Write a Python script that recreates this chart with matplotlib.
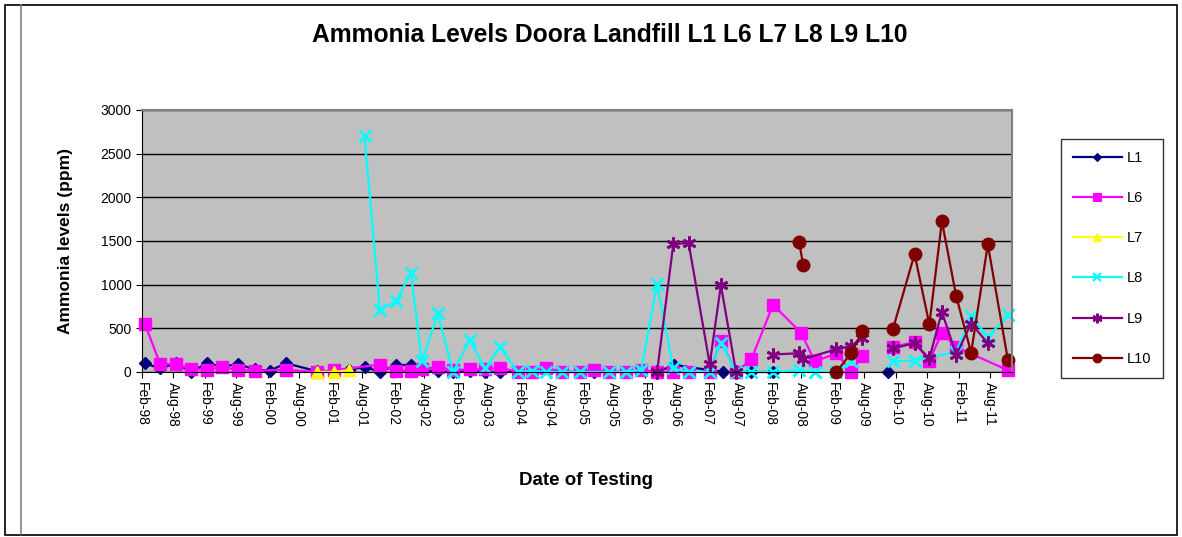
import numpy as np
import pandas as pd
import matplotlib

matplotlib.use("Agg")

import matplotlib.pyplot as plt
import matplotlib.dates as mdates
from matplotlib.lines import Line2D

plt.rcParams["font.family"] = ["Liberation Sans", "DejaVu Sans"]

NAN = np.nan

# sampling dates and readings (ppm) per location; NaN marks a gap in the line
l1_dates = ["1998-02-18", "1998-05-18", "1998-08-18", "1998-11-15", "1999-02-12",
            "1999-05-15", "1999-08-12", "1999-11-18", "2000-02-15", "2000-05-18",
            "2000-11-12", "2001-02-21", "2001-05-18", "2001-08-18", "2001-11-15",
            "2002-02-18", "2002-05-15", "2002-07-18", "2002-10-18", "2003-01-15",
            "2003-04-21", "2003-07-21", "2003-10-15", "2004-04-18", "2004-10-12",
            "2005-04-15", "2005-10-18", "2006-04-15", "2006-07-24", "2007-05-01",
            "2007-10-15", "2008-02-18", "2009-09-01", "2009-12-18"]
l1_values = [100, 40, 100, 0, 100, 60, 90, 30, 15, 100,
             10, 10, 20, 60, 0, 80, 80, 20, 10, 0,
             10, 0, 0, 0, 0, 0, 0, 0, 80, 0,
             0, 0, NAN, 0]

l6_dates = ["1998-02-18", "1998-05-18", "1998-08-18", "1998-11-15", "1999-02-12",
            "1999-05-15", "1999-08-12", "1999-11-18", "2000-05-18", "2000-11-12",
            "2001-02-21", "2001-11-15", "2002-02-18", "2002-05-15", "2002-07-18",
            "2002-10-18", "2003-01-15", "2003-04-21", "2003-07-21", "2003-10-15",
            "2004-01-27", "2004-04-18", "2004-07-09", "2004-10-12", "2005-01-21",
            "2005-04-15", "2005-07-12", "2005-10-18", "2006-01-12", "2006-04-15",
            "2006-07-18", "2006-10-15", "2007-02-15", "2007-04-21", "2007-07-18",
            "2007-10-15", "2008-02-18", "2008-08-01", "2008-10-18", "2009-02-21",
            "2009-05-18", "2009-07-21", "2009-10-15", "2010-01-15", "2010-05-21",
            "2010-08-15", "2010-10-27", "2011-01-18", "2011-11-15"]
l6_values = [550, 90, 90, 35, 25, 55, 25, 15, 25, 0,
             20, 85, 15, 15, 30, 60, 20, 30, 30, 50,
             0, 0, 45, 0, 0, 25, 0, 0, 20, 0,
             0, 0, 0, 350, 0, 145, 770, 445, 120, 215,
             0, 185, NAN, 290, 340, 125, 450, 285, 20]

l7_dates = ["2000-11-12", "2001-02-21", "2001-05-18"]
l7_values = [0, 0, 20]

l8_dates = ["2001-08-18", "2001-11-15", "2002-02-18", "2002-05-15", "2002-07-18",
            "2002-10-18", "2003-01-15", "2003-04-21", "2003-07-21", "2003-10-15",
            "2004-01-27", "2004-04-18", "2004-07-09", "2004-10-12", "2005-01-21",
            "2005-07-12", "2005-10-18", "2006-01-12", "2006-04-15", "2006-07-18",
            "2006-10-15", "2007-02-15", "2007-04-21", "2007-07-18", "2007-10-15",
            "2008-02-18", "2008-07-18", "2008-10-18", "2009-02-21", "2009-05-18",
            "2009-09-01", "2010-01-15", "2010-05-21", "2011-01-18", "2011-04-15",
            "2011-07-21", "2011-11-15"]
l8_values = [2700, 710, 815, 1135, 120, 670, 0, 365, 40, 285,
             0, 15, 0, 0, 0, 0, 0, 25, 1010, 40,
             0, 0, 335, 0, 0, 0, 20, 0, 0, 120,
             NAN, 120, 130, 230, 640, 400, 650]

l9_dates = ["2006-04-15", "2006-07-18", "2006-10-15", "2007-02-15", "2007-04-21",
            "2007-07-18", "2007-10-15", "2008-02-18", "2008-07-18", "2008-08-12",
            "2009-02-21", "2009-05-18", "2009-07-21", "2009-10-15", "2010-01-15",
            "2010-05-21", "2010-08-15", "2010-10-27", "2011-01-18", "2011-04-15",
            "2011-07-21"]
l9_values = [0, 1460, 1480, 90, 995, 0, NAN, 200, 215, 150,
             260, 300, 390, NAN, 270, 330, 155, 690, 195, 555,
             330]

l10_dates = ["2008-07-18", "2008-08-12", "2008-11-15", "2009-02-21", "2009-05-18",
             "2009-07-21", "2009-10-15", "2010-01-15", "2010-05-21", "2010-08-15",
             "2010-10-27", "2011-01-18", "2011-04-15", "2011-07-21", "2011-11-15"]
l10_values = [1490, 1225, NAN, 0, 220, 465, NAN, 490, 1350, 545,
              1725, 870, 220, 1460, 135]

series = [
    ("L1", l1_dates, l1_values, "#000080", "D", 6.5, 1.0),
    ("L6", l6_dates, l6_values, "#FF00FF", "s", 8.5, 1.0),
    ("L7", l7_dates, l7_values, "#FFFF00", "^", 9, 1.0),
    ("L8", l8_dates, l8_values, "#00FFFF", "x", 9, 2.0),
    ("L9", l9_dates, l9_values, "#800080", (6, 2, 0), 10, 2.0),
    ("L10", l10_dates, l10_values, "#800000", "o", 9, 1.0),
]

fig = plt.figure(figsize=(11.82, 5.37), dpi=100)
ax = fig.add_axes([0.1201, 0.3073, 0.7360, 0.4879])
ax.set_facecolor("#C0C0C0")

handles = []
for name, dates, values, color, marker, size, mew in series:
    x = pd.to_datetime(dates)
    ax.plot(x, values, color=color, linewidth=1.6, marker=marker, markersize=size,
            markerfacecolor=color, markeredgecolor=color, markeredgewidth=mew,
            clip_on=False)
    handles.append(Line2D([], [], color=color, linewidth=1.6, marker=marker,
                          markersize=size * 0.7, markerfacecolor=color,
                          markeredgecolor=color, markeredgewidth=mew * 0.8, label=name))

ax.set_ylim(0, 3000)
ax.set_yticks(range(0, 3001, 500))
ax.set_xlim(pd.Timestamp("1998-02-01"), pd.Timestamp("2011-12-08"))
ax.xaxis.set_major_locator(mdates.MonthLocator(bymonth=(2, 8), bymonthday=1))
ax.xaxis.set_major_formatter(mdates.DateFormatter("%b-%y"))
ax.tick_params(axis="x", labelrotation=270, labelsize=10, length=4, color="black", pad=3)
ax.tick_params(axis="y", labelsize=10, length=4, color="black")
ax.grid(axis="y", color="black", linewidth=1.0)
ax.set_axisbelow(True)
for side in ("left", "bottom"):
    ax.spines[side].set_color("black")
for side in ("top", "right"):
    ax.spines[side].set_color("#808080")
    ax.spines[side].set_linewidth(1.5)

ax.set_ylabel("Ammonia levels (ppm)", fontsize=12.5, fontweight="bold", labelpad=20)
ax.set_xlabel("Date of Testing", fontsize=13.5, fontweight="bold")
ax.xaxis.set_label_coords(0.51, -0.38)
fig.text(0.516, 0.935, "Ammonia Levels Doora Landfill L1 L6 L7 L8 L9 L10",
         ha="center", va="center", fontsize=17.7, fontweight="bold")

leg = fig.legend(handles=handles, loc="upper left", bbox_to_anchor=(0.8976, 0.7412),
                 fontsize=10.5, frameon=True, fancybox=False, labelspacing=1.8,
                 handlelength=3.4, handletextpad=0.3, borderpad=0.8, borderaxespad=0)
leg.get_frame().set_edgecolor("black")
leg.get_frame().set_linewidth(1.0)

# chart border
fig.add_artist(plt.Rectangle((5 / 1182, 2 / 537), 1172 / 1182, 530 / 537,
                             transform=fig.transFigure, fill=False,
                             edgecolor="black", linewidth=1.2))
fig.add_artist(Line2D([21 / 1182, 21 / 1182], [3 / 537, 532 / 537],
                      transform=fig.transFigure, color="#808080", linewidth=1.2))

fig.savefig("out.png", dpi=100)
